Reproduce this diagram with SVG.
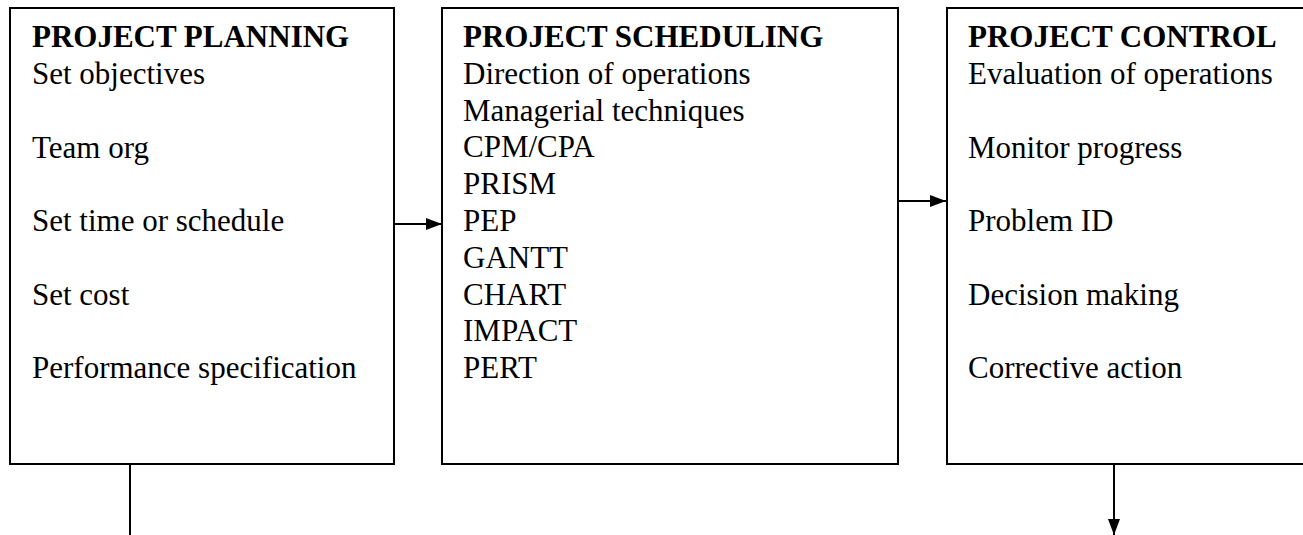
<svg xmlns="http://www.w3.org/2000/svg" width="1303" height="535" viewBox="0 0 1303 535">
<style>
.box{fill:#fff;stroke:#000;stroke-width:2}
.t{font-family:"Liberation Serif","Times New Roman",serif;font-size:31px;fill:#000}
.h{font-weight:bold}
.c{stroke:#000;stroke-width:2;fill:none}
</style>
<defs>
<marker id="ah" markerWidth="16" markerHeight="12" refX="16" refY="6" orient="auto" markerUnits="userSpaceOnUse">
<path d="M0,0 L16,6 L0,12 Z" fill="#000"/>
</marker>
</defs>
<g id="planning">
<rect class="box" x="10" y="8" width="384" height="456"/>
<text class="t h" x="32" y="47">PROJECT PLANNING</text>
<text class="t" x="32" y="84">Set objectives</text>
<text class="t" x="32" y="157.6">Team org</text>
<text class="t" x="32" y="231">Set time or schedule</text>
<text class="t" x="32" y="304.6">Set cost</text>
<text class="t" x="32" y="378">Performance specification</text>
</g>
<g id="scheduling">
<rect class="box" x="442" y="8" width="456" height="456"/>
<text class="t h" x="463" y="47">PROJECT SCHEDULING</text>
<text class="t" x="463" y="84">Direction of operations</text>
<text class="t" x="463" y="120.6">Managerial techniques</text>
<text class="t" x="463" y="157.4">CPM/CPA</text>
<text class="t" x="463" y="194.2">PRISM</text>
<text class="t" x="463" y="231">PEP</text>
<text class="t" x="463" y="267.8">GANTT</text>
<text class="t" x="463" y="304.6">CHART</text>
<text class="t" x="463" y="341.4">IMPACT</text>
<text class="t" x="463" y="378.2">PERT</text>
</g>
<g id="control">
<rect class="box" x="947" y="8" width="380" height="456"/>
<text class="t h" x="968" y="47">PROJECT CONTROL</text>
<text class="t" x="968" y="84">Evaluation of operations</text>
<text class="t" x="968" y="157.6">Monitor progress</text>
<text class="t" x="968" y="231">Problem ID</text>
<text class="t" x="968" y="304.6">Decision making</text>
<text class="t" x="968" y="378">Corrective action</text>
</g>
<g id="connectors">
<line class="c" x1="394" y1="224" x2="442" y2="224" marker-end="url(#ah)"/>
<line class="c" x1="898" y1="201" x2="946" y2="201" marker-end="url(#ah)"/>
<line class="c" x1="130" y1="464" x2="130" y2="535"/>
<line class="c" x1="1114" y1="464" x2="1114" y2="535" marker-end="url(#ah)"/>
</g>
</svg>
